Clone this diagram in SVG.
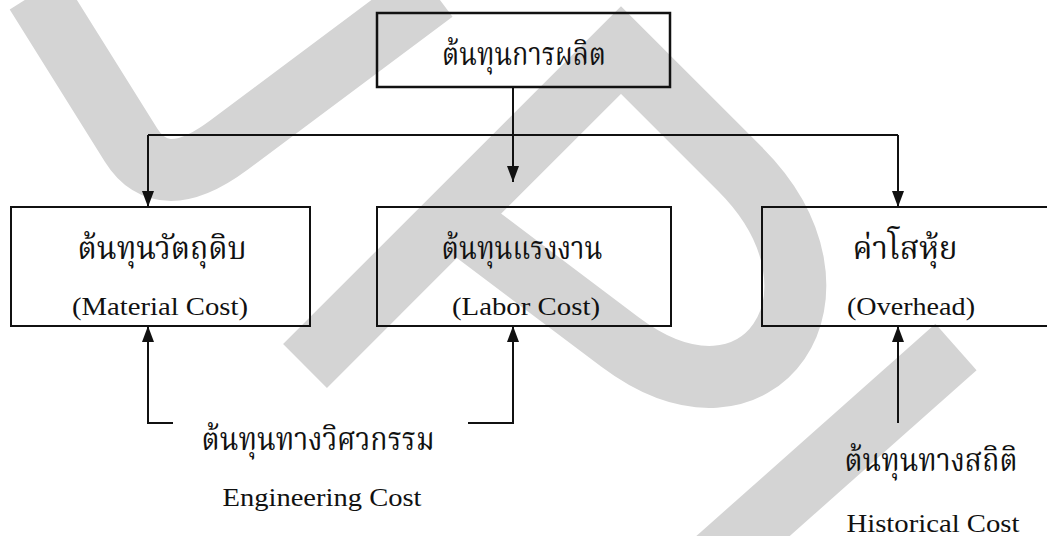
<svg xmlns="http://www.w3.org/2000/svg" width="1047" height="536" viewBox="0 0 1047 536">
<style>
.wm{fill:none;stroke:#d4d4d4;stroke-width:62;stroke-linecap:butt;stroke-linejoin:miter}
.box{fill:none;stroke:#111;stroke-width:2}
.ln{fill:none;stroke:#111;stroke-width:2}
.th{font-family:'Noto Serif Thai','Noto Sans Thai','Norasi','Garuda','Loma','Liberation Serif',serif;font-size:32px;fill:#111;text-anchor:middle}
.en{font-family:'Liberation Serif','Times New Roman',serif;font-size:25px;fill:#111;text-anchor:middle}
</style>
<defs>
<marker id="ah" viewBox="0 0 16 12" refX="16" refY="6" markerWidth="16" markerHeight="12" markerUnits="userSpaceOnUse" orient="auto">
<path d="M0,0 L16,6 L0,12 z" fill="#111"/>
</marker>
</defs>
<rect x="0" y="0" width="1047" height="536" fill="#fff"/>
<g id="watermark">
<path class="wm" d="M36,-7 L131,145 Q162,195 229,145 L434,-8"/>
<path class="wm" d="M305,366 L621,50 L740,169 C864,293 760,447 620,342 L454,217"/>
<path class="wm" d="M956,347 L716,560"/>
</g>
<g id="connectors">
<path class="ln" d="M513,87 V182" marker-end="url(#ah)"/>
<path class="ln" d="M148,135 H898"/>
<path class="ln" d="M148,135 V207" marker-end="url(#ah)"/>
<path class="ln" d="M898,135 V207" marker-end="url(#ah)"/>
<path class="ln" d="M173,423 H148 V326" marker-end="url(#ah)"/>
<path class="ln" d="M468,423 H513 V326" marker-end="url(#ah)"/>
<path class="ln" d="M898,423 V326" marker-end="url(#ah)"/>
</g>
<g id="n-production">
<rect class="box" x="377" y="13" width="293" height="74" style="stroke-width:2.5"/>
<text class="th" x="524" y="65" textLength="164" lengthAdjust="spacingAndGlyphs">ต้นทุนการผลิต</text>
</g>
<g id="n-material">
<rect class="box" x="11" y="207" width="299" height="119"/>
<text class="th" x="162" y="259" textLength="169" lengthAdjust="spacingAndGlyphs">ต้นทุนวัตถุดิบ</text>
<text class="en" x="160" y="315" textLength="176" lengthAdjust="spacingAndGlyphs">(Material Cost)</text>
</g>
<g id="n-labor">
<rect class="box" x="377" y="207" width="294" height="119"/>
<text class="th" x="522" y="259" textLength="161" lengthAdjust="spacingAndGlyphs">ต้นทุนแรงงาน</text>
<text class="en" x="526" y="315" textLength="148" lengthAdjust="spacingAndGlyphs">(Labor Cost)</text>
</g>
<g id="n-overhead">
<rect class="box" x="762" y="207" width="300" height="119"/>
<text class="th" x="905" y="259" textLength="105" lengthAdjust="spacingAndGlyphs">ค่าโสหุ้ย</text>
<text class="en" x="911" y="315" textLength="128" lengthAdjust="spacingAndGlyphs">(Overhead)</text>
</g>
<g id="n-engineering">
<text class="th" x="318" y="450" textLength="233" lengthAdjust="spacingAndGlyphs">ต้นทุนทางวิศวกรรม</text>
<text class="en" x="322" y="506" textLength="199" lengthAdjust="spacingAndGlyphs">Engineering Cost</text>
</g>
<g id="n-historical">
<text class="th" x="931" y="471" textLength="173" lengthAdjust="spacingAndGlyphs">ต้นทุนทางสถิติ</text>
<text class="en" x="933" y="532" textLength="173" lengthAdjust="spacingAndGlyphs">Historical Cost</text>
</g>
</svg>
